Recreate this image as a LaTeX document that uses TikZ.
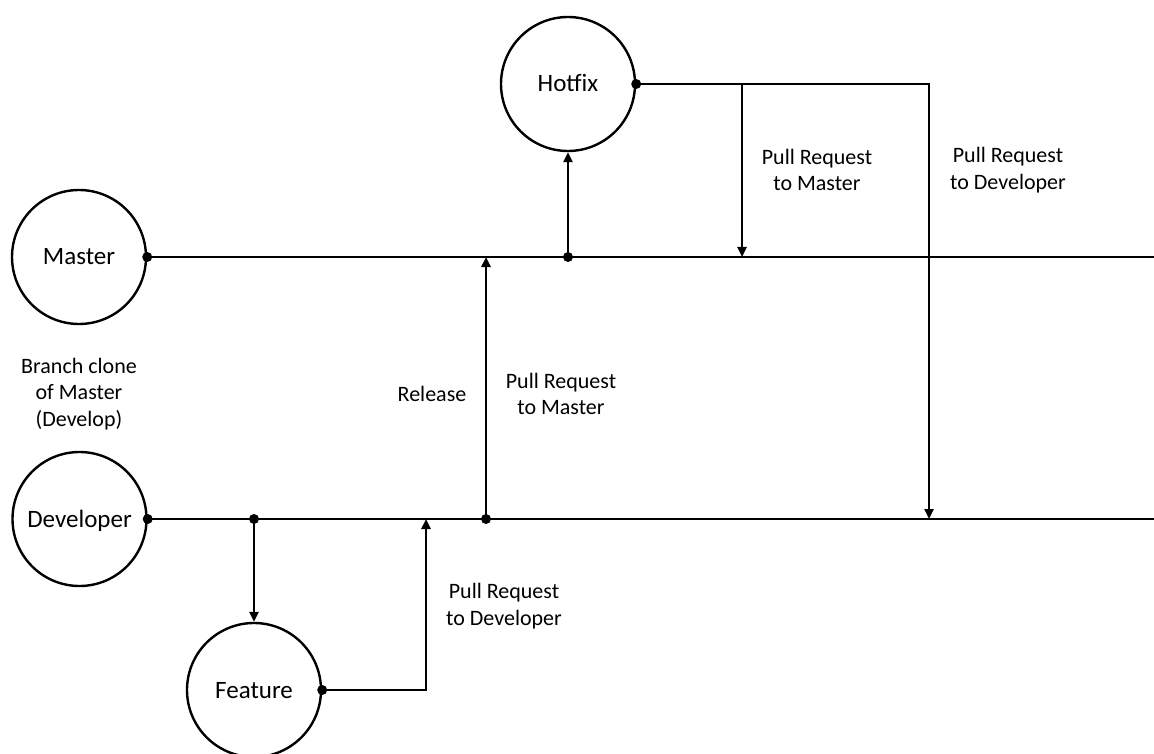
\documentclass[tikz,border=0pt]{standalone}
\usepackage{fontspec}
\setmainfont{Carlito}
\usetikzlibrary{arrows.meta}
\begin{document}
\begin{tikzpicture}[x=1pt,y=-1pt,
  branch/.style={circle,draw,line width=2.4pt,minimum size=134pt,inner sep=0pt,font=\fontsize{25}{30}\selectfont,text height=16pt,text depth=0pt},
  lbl/.style={align=center,font=\fontsize{22}{26.4}\selectfont,inner sep=0pt},
  conn/.style={line width=2.4pt},
  arr/.style={line width=2.4pt,-{Triangle[length=10pt,width=9pt]}},
  dot/.style={circle,fill,inner sep=0pt,minimum size=10pt}]
\useasboundingbox (0,0) rectangle (1154,754);
% branch circles
\node[branch] (master) at (79,257) {Master};
\node[branch] (dev) at (79.5,519) {Developer};
\node[branch] (hotfix) at (568,84) {Hotfix};
\node[branch] (feature) at (254,690) {Feature};
% coordinates
\coordinate (mend) at (1154,257);
\coordinate (dend) at (1154,519);
\coordinate (fsplit) at (254,519);
\coordinate (fcorner) at (426,690);
\coordinate (fmerge) at (426,519);
\coordinate (rsplit) at (486,519);
\coordinate (rmerge) at (486,257);
\coordinate (hsplit) at (568,257);
\coordinate (hcorner) at (929,84);
\coordinate (hdmerge) at (929,519);
\coordinate (hmbranch) at (742,84);
\coordinate (hmmerge) at (742,257);
% main lines
\draw[conn] (master.east) -- (mend);
\draw[conn] (dev.east) -- (dend);
% feature
\draw[arr] (fsplit) -- (feature.north);
\draw[arr] (feature.east) -- (fcorner) -- (fmerge);
% release
\draw[arr] (rsplit) -- (rmerge);
% hotfix
\draw[arr] (hsplit) -- (hotfix.south);
\draw[arr] (hotfix.east) -- (hcorner) -- (hdmerge);
\draw[arr] (hmbranch) -- (hmmerge);
% dots
\node[dot] at (master.east) {};
\node[dot] at (dev.east) {};
\node[dot] at (hotfix.east) {};
\node[dot] at (feature.east) {};
\node[dot] at (fsplit) {};
\node[dot] at (rsplit) {};
\node[dot] at (hsplit) {};
% labels
\node[lbl] (lclone) at (79,394) {Branch clone\\of Master\\(Develop)};
\node[lbl] (lrel) at (432,394) {Release};
\node[lbl] (lprm) at (561,394) {Pull Request\\to Master};
\node[lbl] (lprd) at (504,606) {Pull Request\\to Developer};
\node[lbl] (lhm) at (817,170) {Pull Request\\to Master};
\node[lbl] (lhd) at (1008,170) {Pull Request\\to Developer};
\end{tikzpicture}
\end{document}
